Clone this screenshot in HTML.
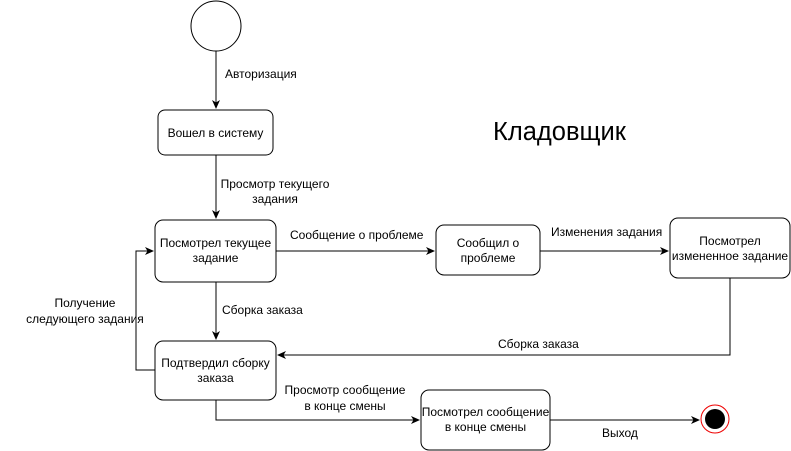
<!DOCTYPE html>
<html><head><meta charset="utf-8"><style>
body{margin:0;background:#fff;}
svg{display:block;font-family:"Liberation Sans","DejaVu Sans",sans-serif;font-size:12px;}
</style></head><body>
<svg width="791" height="451" viewBox="0 0 791 451" xmlns="http://www.w3.org/2000/svg">
<defs><marker id="a" markerWidth="10" markerHeight="10" refX="8" refY="5" orient="auto" markerUnits="userSpaceOnUse"><path d="M0,1 L9,5 L0,9 L2.5,5 Z" fill="#000"/></marker></defs>
<rect width="791" height="451" fill="#fff"/>
<g fill="none" stroke="#000" stroke-width="1">
<circle cx="216" cy="26" r="25" fill="#fff"/>
<rect x="158" y="110" width="115" height="45" rx="7" fill="#fff"/>
<rect x="155" y="220" width="121" height="62" rx="8" fill="#fff"/>
<rect x="436" y="225" width="104" height="50" rx="8" fill="#fff"/>
<rect x="670" y="218" width="120" height="60" rx="8" fill="#fff"/>
<rect x="155" y="341" width="121" height="59" rx="8" fill="#fff"/>
<rect x="421" y="390" width="129" height="60" rx="8" fill="#fff"/>
<path d="M216,51 V108" marker-end="url(#a)"/>
<path d="M216,155 V218" marker-end="url(#a)"/>
<path d="M276,251 H434" marker-end="url(#a)"/>
<path d="M540,251 H668" marker-end="url(#a)"/>
<path d="M730,278 V355 H278" marker-end="url(#a)"/>
<path d="M216,282 V339" marker-end="url(#a)"/>
<path d="M155,370 H136 V251 H153" marker-end="url(#a)"/>
<path d="M216,400 V420 H419" marker-end="url(#a)"/>
<path d="M550,420 H699" marker-end="url(#a)"/>
</g>
<circle cx="715" cy="419" r="14" fill="#fff" stroke="#e00" stroke-width="1"/>
<circle cx="715" cy="419" r="10" fill="#000"/>
<g fill="#000" text-anchor="middle">
<text x="215.5" y="137">Вошел в систему</text>
<text x="215.5" y="247">Посмотрел текущее</text><text x="215.5" y="262">задание</text>
<text x="488" y="247">Сообщил о</text><text x="488" y="262">проблеме</text>
<text x="730" y="245">Посмотрел</text><text x="730" y="260">измененное задание</text>
<text x="215.5" y="367">Подтвердил сборку</text><text x="215.5" y="382">заказа</text>
<text x="485.5" y="416">Посмотрел сообщение</text><text x="485.5" y="431">в конце смены</text>
<text x="275" y="188">Просмотр текущего</text><text x="275" y="203">задания</text>
<text x="85" y="307">Получение</text><text x="85" y="323">следующего задания</text>
<text x="345" y="394">Просмотр сообщение</text><text x="345" y="410">в конце смены</text>
</g>
<g fill="#000">
<text x="225" y="78">Авторизация</text>
<text x="290" y="239">Сообщение о проблеме</text>
<text x="551" y="236">Изменения задания</text>
<text x="222" y="314">Сборка заказа</text>
<text x="498" y="348">Сборка заказа</text>
<text x="602" y="437">Выход</text>
<text x="493" y="140" font-size="25.5">Кладовщик</text>
</g>
</svg>
</body></html>
